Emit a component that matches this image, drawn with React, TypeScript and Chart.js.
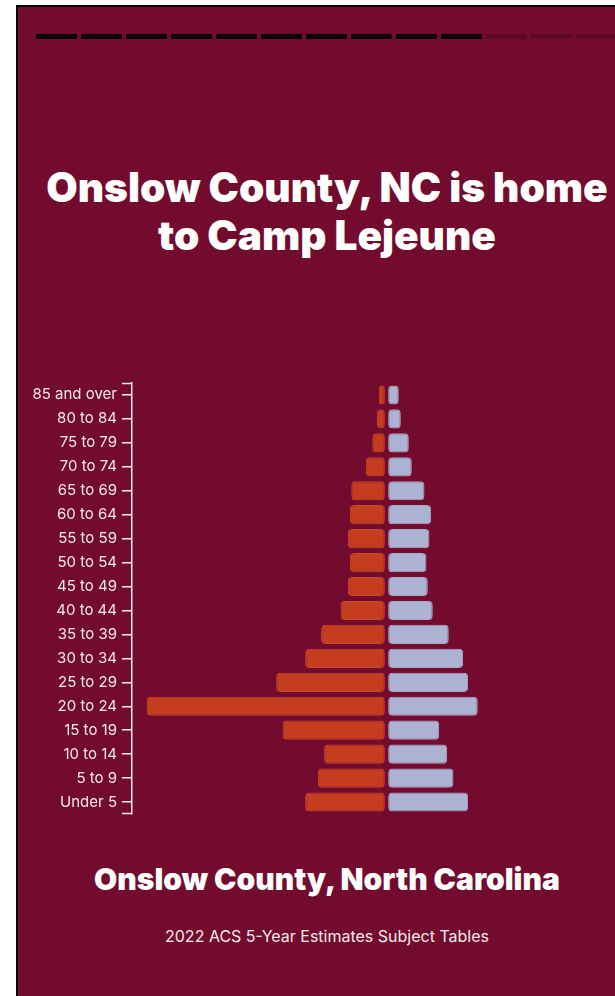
import React, { useEffect, useRef } from "react";
import { Chart, registerables } from "chart.js";

Chart.register(...registerables);

// ---- Data ----
const AGE_GROUPS = [
  "85 and over",
  "80 to 84",
  "75 to 79",
  "70 to 74",
  "65 to 69",
  "60 to 64",
  "55 to 59",
  "50 to 54",
  "45 to 49",
  "40 to 44",
  "35 to 39",
  "30 to 34",
  "25 to 29",
  "20 to 24",
  "15 to 19",
  "10 to 14",
  "5 to 9",
  "Under 5",
];

const MALE = [
  600, 800, 1250, 1900, 3350, 3500, 3700, 3500, 3700, 4430, 6370, 7970, 10870,
  23830, 10230, 6070, 6700, 7970,
];

const FEMALE = [
  1060, 1260, 2060, 2360, 3630, 4300, 4130, 3830, 3960, 4460, 6060, 7500, 8000,
  8960, 5100, 5900, 6530, 8000,
];

const TITLE_LINES = ["Onslow County, NC is home", "to Camp Lejeune"];
const PLACE = "Onslow County, North Carolina";
const SOURCE = "2022 ACS 5-Year Estimates Subject Tables";
const STEPS_TOTAL = 14;
const STEPS_DONE = 10;

// ---- Styling ----
const BG = "#720b2e";
const MALE_COLOR = "#c43d1e";
const MALE_BORDER = "#c8462a";
const FEMALE_COLOR = "#adb3d3";
const FEMALE_BORDER = "#a8a9ca";
const LABEL_COLOR = "#f4e8eb";
const AXIS_COLOR = "#eeeeee";
const AXIS_MAX = 25300;
const GAP = 170;
const FONT = "Inter, 'Noto Sans', sans-serif";

const axisCaps = {
  id: "axisCaps",
  afterDraw(chart: any) {
    const s = chart.scales.y;
    const len = s.options.grid.tickLength;
    const ctx = chart.ctx;
    ctx.save();
    ctx.strokeStyle = AXIS_COLOR;
    ctx.lineWidth = 1.5;
    ctx.beginPath();
    ctx.moveTo(s.right - len, s.top + 0.5);
    ctx.lineTo(s.right, s.top + 0.5);
    ctx.moveTo(s.right - len, s.bottom - 0.5);
    ctx.lineTo(s.right, s.bottom - 0.5);
    ctx.stroke();
    ctx.restore();
  },
};

function Pyramid() {
  const ref = useRef<HTMLCanvasElement | null>(null);
  useEffect(() => {
    if (!ref.current) return;
    const chart = new Chart(ref.current, {
      type: "bar",
      data: {
        labels: AGE_GROUPS,
        datasets: [
          {
            label: "Male",
            data: MALE,
            xAxisID: "xM",
            backgroundColor: MALE_COLOR,
            borderColor: MALE_BORDER,
            borderWidth: 1,
            borderRadius: 4,
            borderSkipped: false,
            grouped: false,
            categoryPercentage: 1,
            barPercentage: 0.8,
          },
          {
            label: "Female",
            data: FEMALE,
            xAxisID: "xF",
            backgroundColor: FEMALE_COLOR,
            borderColor: FEMALE_BORDER,
            borderWidth: 1,
            borderRadius: 4,
            borderSkipped: false,
            grouped: false,
            categoryPercentage: 1,
            barPercentage: 0.8,
          },
        ],
      },
      options: {
        indexAxis: "y",
        responsive: false,
        animation: false,
        devicePixelRatio: 1,
        layout: { padding: { top: 20, bottom: 20, left: 0, right: 0 } },
        plugins: {
          legend: { display: false },
          tooltip: { enabled: false },
          title: { display: false },
        },
        scales: {
          y: {
            type: "category",
            offset: true,
            grid: {
              display: true,
              drawOnChartArea: false,
              drawTicks: true,
              tickLength: 10,
              offset: false,
              color: AXIS_COLOR,
              lineWidth: 1.5,
            },
            border: { display: true, color: AXIS_COLOR, width: 1.5 },
            ticks: {
              color: LABEL_COLOR,
              font: { family: FONT, size: 15 },
              padding: 5,
              autoSkip: false,
            },
            afterFit: (s: any) => {
              s.width = 132;
            },
          },
          xM: {
            type: "linear",
            position: "bottom",
            stack: "pyramid",
            stackWeight: 1,
            reverse: true,
            min: -GAP,
            max: AXIS_MAX,
            display: false,
          },
          xF: {
            type: "linear",
            position: "bottom",
            stack: "pyramid",
            stackWeight: 1,
            min: -GAP,
            max: AXIS_MAX,
            display: false,
          },
        },
      } as any,
      plugins: [axisCaps],
    });
    return () => chart.destroy();
  }, []);
  return (
    <canvas
      ref={ref}
      width={641}
      height={471}
      style={{ position: "absolute", left: 0, top: 363, width: 641, height: 471 }}
    />
  );
}

export default function App() {
  const steps = Array.from({ length: STEPS_TOTAL }, (_, i) => i < STEPS_DONE);
  return (
    <div
      style={{
        position: "fixed",
        left: 0,
        top: 0,
        width: 615,
        height: 996,
        overflow: "hidden",
        background: "#ffffff",
        fontFamily: FONT,
      }}
    >
      <div
        style={{
          position: "absolute",
          left: 16,
          top: 5,
          width: 622,
          height: 1000,
          boxSizing: "border-box",
          border: "2px solid #000",
          background: BG,
        }}
      />
      <div style={{ position: "absolute", left: 36, top: 34, display: "flex" }}>
        {steps.map((done, i) => (
          <div
            key={i}
            style={{
              width: 41,
              height: 5,
              marginRight: 4,
              background: done ? "#050505" : "#5e0826",
            }}
          />
        ))}
      </div>
      <div
        style={{
          position: "absolute",
          left: 16,
          width: 622,
          top: 164,
          textAlign: "center",
          color: "#ffffff",
          fontSize: 40.6,
          fontWeight: 900,
          lineHeight: "48px",
          whiteSpace: "nowrap",
        }}
      >
        {TITLE_LINES.map((l, i) => (
          <div key={i}>{l}</div>
        ))}
      </div>
      <Pyramid />
      <div
        style={{
          position: "absolute",
          left: 16,
          width: 622,
          top: 861,
          textAlign: "center",
          color: "#ffffff",
          fontSize: 30,
          fontWeight: 900,
          lineHeight: "36px",
          whiteSpace: "nowrap",
        }}
      >
        {PLACE}
      </div>
      <div
        style={{
          position: "absolute",
          left: 16,
          width: 622,
          top: 927,
          textAlign: "center",
          color: "#f3e9ec",
          fontSize: 16,
          lineHeight: "19px",
          whiteSpace: "nowrap",
        }}
      >
        {SOURCE}
      </div>
    </div>
  );
}
